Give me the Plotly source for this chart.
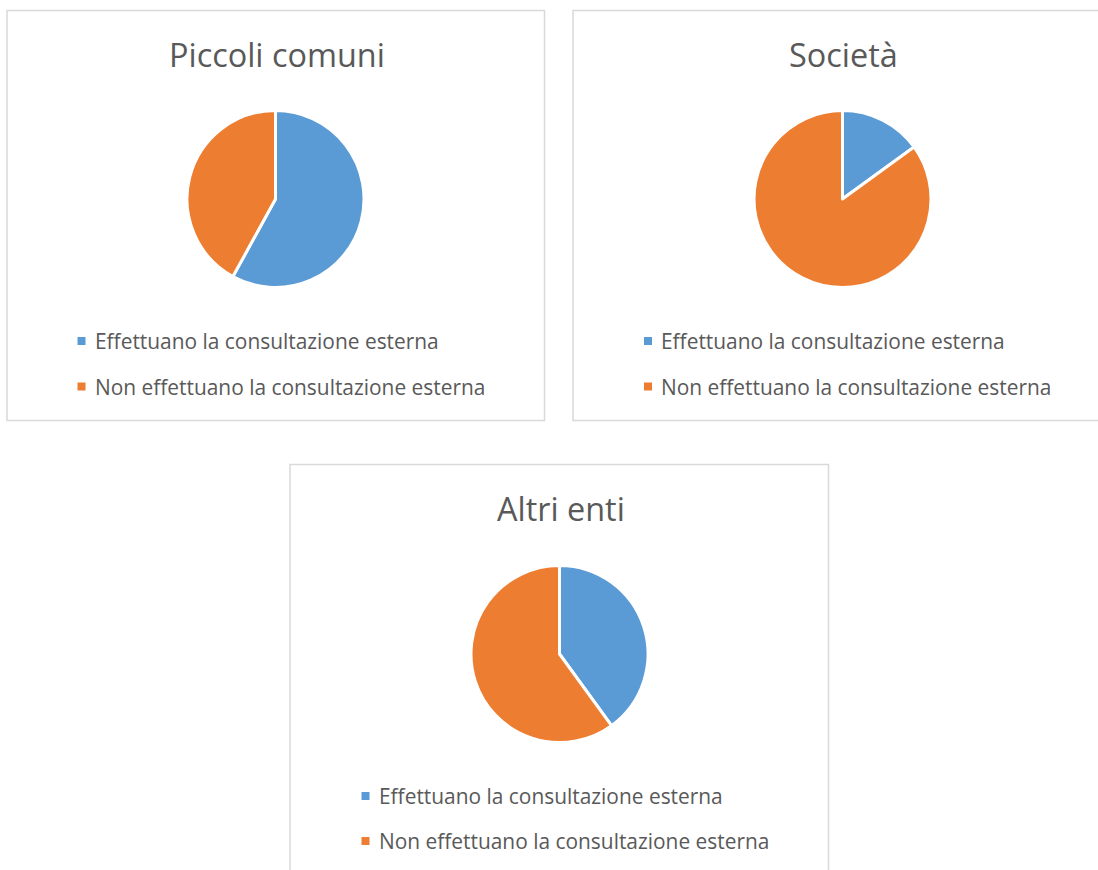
import plotly.graph_objects as go

# ---- data ----
categories = ["Effettuano la consultazione esterna", "Non effettuano la consultazione esterna"]
chart_titles = ["Piccoli comuni", "Società", "Altri enti"]
piccoli_comuni = [58, 42]
societa = [15, 85]
altri_enti = [40, 60]

# ---- styling / layout ----
W, H = 1098, 870
colors = ["#5B9BD5", "#ED7D31"]
text_color = "#595959"
border_color = "#D9D9D9"
font_family = "Open Sans"

def px(x):
    return x / W

def py(y):
    return 1 - y / H

# panel boxes (pixel coords): x0, y0, x1, y1
boxes = [(7, 10.5, 544.5, 420.5), (573, 10.5, 1110, 420.5), (290, 464.5, 828.5, 890)]
pie_centers = [(275.5, 199), (842.5, 199), (559.5, 654)]
pie_r = 88.5
title_y = [54, 54, 508]
legend_x = [81.5, 648, 365.5]
legend_y = [(341, 386.5), (341, 386.5), (796, 841)]

series = [piccoli_comuni, societa, altri_enti]

fig = go.Figure()
shapes = []
annotations = []

for i, vals in enumerate(series):
    cx, cy = pie_centers[i]
    fig.add_trace(go.Pie(
        labels=categories,
        values=vals,
        sort=False,
        direction="clockwise",
        rotation=0,
        textinfo="none",
        hoverinfo="label+percent",
        marker=dict(colors=colors, line=dict(color="white", width=3)),
        domain=dict(x=[px(cx - pie_r), px(cx + pie_r)], y=[py(cy + pie_r), py(cy - pie_r)]),
        showlegend=False,
        name=chart_titles[i],
    ))
    x0, y0, x1, y1 = boxes[i]
    shapes.append(dict(type="rect", xref="paper", yref="paper",
                       x0=px(x0), x1=px(x1), y0=py(y1), y1=py(y0),
                       line=dict(color=border_color, width=1.5), fillcolor="rgba(0,0,0,0)", layer="below"))
    annotations.append(dict(text=chart_titles[i], xref="paper", yref="paper",
                            x=px(cx + 1), y=py(title_y[i]), xanchor="center", yanchor="middle",
                            showarrow=False, font=dict(family=font_family, size=32.4, color=text_color)))
    # legend entries
    for j, cat in enumerate(categories):
        lx = legend_x[i]
        ly = legend_y[i][j]
        shapes.append(dict(type="rect", xref="paper", yref="paper",
                           x0=px(lx - 4), x1=px(lx + 4), y0=py(ly + 4), y1=py(ly - 4),
                           line=dict(width=0), fillcolor=colors[j]))
        annotations.append(dict(text=cat, xref="paper", yref="paper",
                                x=px(lx + 11), y=py(ly), xanchor="left", yanchor="middle",
                                showarrow=False, font=dict(family=font_family, size=20.9, color=text_color)))

fig.update_layout(
    width=W, height=H,
    margin=dict(l=0, r=0, t=0, b=0),
    paper_bgcolor="white",
    plot_bgcolor="white",
    shapes=shapes,
    annotations=annotations,
    showlegend=False,
)

fig.write_html("out.html", config={"displayModeBar": False},
               post_script="document.body.style.margin='0';document.body.style.padding='0';")
